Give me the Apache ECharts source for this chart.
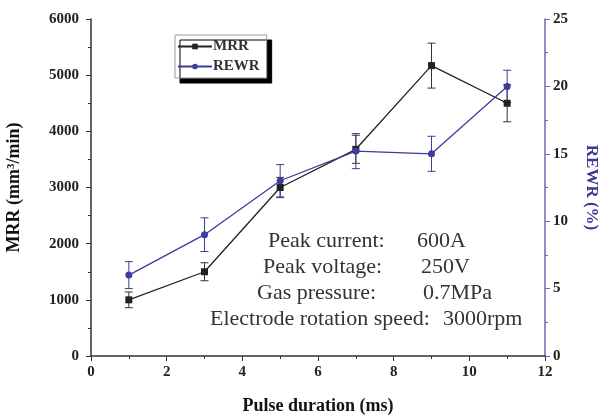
<!DOCTYPE html>
<html>
<head>
<meta charset="utf-8">
<script src="https://cdn.jsdelivr.net/npm/echarts@6/dist/echarts.min.js"></script>
<style>
  html, body { margin: 0; padding: 0; background: #fff; }
  #chart { width: 602px; height: 417px; }
</style>
</head>
<body>
<div id="chart"></div>
<script>
// pulse duration (ms)
var pulse = [1, 3, 5, 7, 9, 11]
// MRR (mm3/min) and its error
var mrr = [1000, 1500, 3000, 3680, 5170, 4500]
var mrrErr = [140, 160, 180, 250, 400, 330]
// REWR (%) and its error
var rewr = [6.0, 9.0, 13.0, 15.2, 15.0, 20.0]
var rewrErr = [1.0, 1.25, 1.2, 1.3, 1.3, 1.2]

var notes = [
  ['Peak current:', '600A'],
  ['Peak voltage:', '250V'],
  ['Gas pressure:', '0.7MPa'],
  ['Electrode rotation speed:', '3000rpm']
]

var serif = '"Liberation Serif", "DejaVu Serif", serif'
var black = '#222'
var blue = '#3c3c9c'

function pairs(ys) {
  return pulse.map(function (x, i) { return [x, ys[i]] })
}

function errData(ys, es) {
  return pulse.map(function (x, i) { return [x, ys[i] - es[i], ys[i] + es[i]] })
}

function errRender(color) {
  return function (params, api) {
    var lo = api.coord([api.value(0), api.value(1)])
    var hi = api.coord([api.value(0), api.value(2)])
    var w = 4
    var style = { stroke: color, lineWidth: 1 }
    return {
      type: 'group',
      children: [
        { type: 'line', shape: { x1: lo[0], y1: lo[1], x2: hi[0], y2: hi[1] }, style: style },
        { type: 'line', shape: { x1: lo[0] - w, y1: lo[1], x2: lo[0] + w, y2: lo[1] }, style: style },
        { type: 'line', shape: { x1: hi[0] - w, y1: hi[1], x2: hi[0] + w, y2: hi[1] }, style: style }
      ]
    }
  }
}

var axisFont = { fontFamily: serif, fontWeight: 'bold', fontSize: 15, color: '#222' }
var nameFont = { fontFamily: serif, fontWeight: 'bold', fontSize: 18, color: '#111' }

// annotation block, label column + value column
var graphics = []
var lineY = [241, 267, 293, 319]
var labelX = [268, 263, 257, 210]
var valueX = [417, 421, 423, 443]
notes.forEach(function (n, i) {
  graphics.push({
    type: 'text',
    x: labelX[i],
    y: lineY[i],
    style: { text: n[0], font: '22px ' + serif, fill: '#333', verticalAlign: 'middle' }
  })
  graphics.push({
    type: 'text',
    x: valueX[i],
    y: lineY[i],
    style: { text: n[1], font: '22px ' + serif, fill: '#333', verticalAlign: 'middle' }
  })
})

var chart = echarts.init(document.getElementById('chart'))
chart.setOption({
  animation: false,
  grid: { left: 91, right: 57, top: 19, bottom: 61, outerBoundsMode: 'none', containLabel: false },
  legend: {
    left: 175,
    top: 35,
    orient: 'vertical',
    data: ['MRR', 'REWR'],
    itemWidth: 34,
    itemHeight: 7,
    itemGap: 5,
    padding: [4, 7, 4, 2],
    backgroundColor: '#fff',
    borderColor: '#999',
    borderWidth: 1,
    borderRadius: 0,
    shadowColor: '#000',
    shadowBlur: 0,
    shadowOffsetX: 5,
    shadowOffsetY: 5,
    textStyle: { fontFamily: serif, fontWeight: 'bold', fontSize: 15, color: '#333', padding: [0, 0, 0, -4] }
  },
  xAxis: {
    type: 'value',
    min: 0,
    max: 12,
    interval: 2,
    name: 'Pulse duration (ms)',
    nameLocation: 'middle',
    nameGap: 41,
    nameTextStyle: nameFont,
    axisLine: { lineStyle: { color: '#333', width: 1.5 } },
    axisTick: { length: 5, lineStyle: { color: '#333' } },
    minorTick: { show: true, splitNumber: 2, length: 3, lineStyle: { color: '#333' } },
    axisLabel: Object.assign({ margin: 9 }, axisFont),
    splitLine: { show: false }
  },
  yAxis: [
    {
      type: 'value',
      min: 0,
      max: 6000,
      interval: 1000,
      name: 'MRR (mm\u00b3/min)',
      nameLocation: 'middle',
      nameGap: 68,
      nameRotate: 90,
      nameTextStyle: nameFont,
      axisLine: { show: true, lineStyle: { color: '#333', width: 1.5 } },
      axisTick: { show: true, length: 5, lineStyle: { color: '#333' } },
      minorTick: { show: true, splitNumber: 2, length: 3, lineStyle: { color: '#333' } },
      axisLabel: Object.assign({ margin: 12, formatter: function (v) { return String(v) } }, axisFont),
      splitLine: { show: false }
    },
    {
      type: 'value',
      min: 0,
      max: 25,
      interval: 5,
      name: 'REWR (%)',
      nameLocation: 'middle',
      nameGap: 38,
      nameRotate: -90,
      nameTextStyle: Object.assign({}, nameFont, { fontSize: 17, color: '#3a3a90' }),
      axisLine: { show: true, lineStyle: { color: '#6b6bb0', width: 1.5 } },
      axisTick: { show: true, length: 5, lineStyle: { color: '#6b6bb0' } },
      minorTick: { show: true, splitNumber: 2, length: 3, lineStyle: { color: '#6b6bb0' } },
      axisLabel: Object.assign({ margin: 8 }, axisFont),
      splitLine: { show: false }
    }
  ],
  series: [
    {
      name: 'MRR',
      type: 'line',
      yAxisIndex: 0,
      data: pairs(mrr),
      symbol: 'rect',
      symbolSize: 7,
      color: black,
      lineStyle: { color: black, width: 1.3 },
      itemStyle: { color: black },
      z: 3
    },
    {
      name: 'REWR',
      type: 'line',
      yAxisIndex: 1,
      data: pairs(rewr),
      symbol: 'circle',
      symbolSize: 7,
      color: blue,
      lineStyle: { color: blue, width: 1.3 },
      itemStyle: { color: blue },
      z: 4
    },
    {
      type: 'custom',
      yAxisIndex: 0,
      data: errData(mrr, mrrErr),
      renderItem: errRender('#333'),
      encode: { x: 0, y: [1, 2] },
      z: 2
    },
    {
      type: 'custom',
      yAxisIndex: 1,
      data: errData(rewr, rewrErr),
      renderItem: errRender(blue),
      encode: { x: 0, y: [1, 2] },
      z: 2
    }
  ],
  graphic: graphics
})
</script>
</body>
</html>
